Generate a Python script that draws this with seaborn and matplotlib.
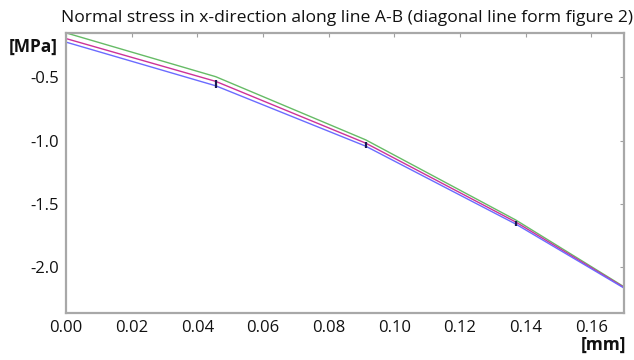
import matplotlib
matplotlib.use("Agg")
import matplotlib.pyplot as plt
import seaborn as sns
import pandas as pd

# Distance along the diagonal A-B [mm]
distance = [0.0, 0.0456, 0.0913, 0.137, 0.17]

# Normal stress sigma_x [MPa] for three solution variants
stress_upper = [-0.149, -0.495, -0.994, -1.627, -2.155]
stress_mid = [-0.194, -0.532, -1.020, -1.643, -2.160]
stress_lower = [-0.222, -0.567, -1.044, -1.659, -2.165]
series_names = ["upper", "mid", "lower"]

# Scatter range at the interior nodes
node_x = [0.0456, 0.0913, 0.137]
node_low = [-0.585, -1.060, -1.672]
node_high = [-0.520, -1.010, -1.634]

frames = []
for name, vals in zip(series_names, [stress_upper, stress_mid, stress_lower]):
    frames.append(pd.DataFrame({"x": distance, "stress": vals, "series": name}))
df = pd.concat(frames, ignore_index=True)

sns.set_style("white")
plt.rcParams["font.family"] = ["Open Sans", "DejaVu Sans"]

fig = plt.figure(figsize=(6.34, 3.60), dpi=100)
ax = fig.add_axes([66 / 634, 47 / 360, 558 / 634, 280 / 360])

palette = {"upper": "#66bb66", "mid": "#cc3399", "lower": "#6b6bff"}
sns.lineplot(data=df, x="x", y="stress", hue="series", palette=palette,
             linewidth=1.0, legend=False, ax=ax, estimator=None, sort=False)

ax.vlines(node_x, node_low, node_high, color="#1a1a50", linewidth=1.6, zorder=5)

ax.set_xlim(0.0, 0.17)
ax.set_ylim(-2.362, -0.15)
ax.set_xticks([0.0, 0.02, 0.04, 0.06, 0.08, 0.10, 0.12, 0.14, 0.16])
ax.set_xticklabels([f"{v:.2f}" for v in ax.get_xticks()])
ax.set_yticks([-2.0, -1.5, -1.0, -0.5])
ax.set_yticklabels(["-2.0", "-1.5", "-1.0", "-0.5"])
ax.set_xlabel("")
ax.set_ylabel("")

ax.tick_params(axis="both", direction="in", length=3, width=0.8, color="#a0a0a0",
               labelsize=12, labelcolor="#111111", top=True, right=True, pad=5)
for side in ax.spines.values():
    side.set_color("#a8a8a8")
    side.set_linewidth(1.6)

fig.text(347 / 634, 1 - 18 / 360, "Normal stress in x-direction along line A-B (diagonal line form figure 2)",
         ha="center", va="center", fontsize=12.6, color="#111111")
fig.text(33 / 634, 1 - 47 / 360, "[MPa]", ha="center", va="center",
         fontsize=12.5, fontweight="bold", color="#111111")
fig.text(604 / 634, 1 - 345 / 360, "[mm]", ha="center", va="center",
         fontsize=12.5, fontweight="bold", color="#111111")

fig.savefig("out.png", dpi=100)
